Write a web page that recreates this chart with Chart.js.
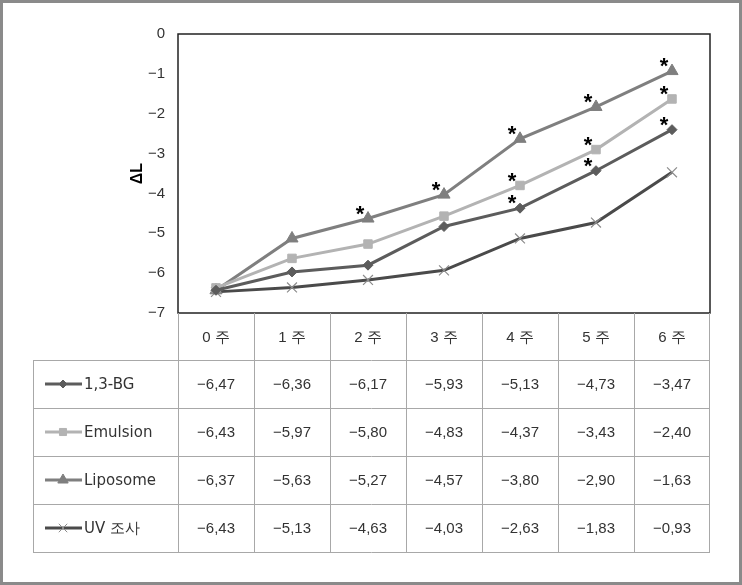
<!DOCTYPE html>
<html>
<head>
<meta charset="utf-8">
<script src="https://cdn.jsdelivr.net/npm/chart.js@4/dist/chart.umd.min.js"></script>
<style>
  body { margin: 0; background: #fff; }
  #wrap { position: relative; width: 742px; height: 585px; }
  #frame { position: absolute; left: 0; top: 0; width: 742px; height: 585px; box-sizing: border-box; border: 3px solid #8a8a8a; pointer-events: none; }
</style>
</head>
<body>
<div id="wrap">
  <canvas id="myChart" width="742" height="585"></canvas>
  <div id="frame"></div>
</div>
<script>
const weeks = ["0 주", "1 주", "2 주", "3 주", "4 주", "5 주", "6 주"];
const rowNames = ["1,3-BG", "Emulsion", "Liposome", "UV 조사"];

// table values
const bg13 = [-6.47, -6.36, -6.17, -5.93, -5.13, -4.73, -3.47];
const emulsion = [-6.43, -5.97, -5.80, -4.83, -4.37, -3.43, -2.40];
const liposome = [-6.37, -5.63, -5.27, -4.57, -3.80, -2.90, -1.63];
const uvExposure = [-6.43, -5.13, -4.63, -4.03, -2.63, -1.83, -0.93];

// significance marks (*) per plotted line
const starsDiamond = [0, 0, 0, 0, 1, 1, 1];
const starsSquare = [0, 0, 0, 0, 1, 1, 1];
const starsTriangle = [0, 0, 1, 1, 1, 1, 1];
const starsCross = [0, 0, 0, 0, 0, 0, 0];

const tableRows = [bg13, emulsion, liposome, uvExposure];

// marker styles as shown in the table legend
const styles = [
  { color: "#5c5c5c", point: "rectRot", radius: 5, pointBorder: "#5c5c5c" },
  { color: "#b3b3b3", point: "rect", radius: 6, pointBorder: "#b3b3b3" },
  { color: "#7f7f7f", point: "triangle", radius: 7, pointBorder: "#7f7f7f" },
  { color: "#4a4a4a", point: "crossRot", radius: 7, pointBorder: "#8c8c8c" },
];

// in the original figure the lines sit one row off from the table legend
const lineData = [emulsion, liposome, uvExposure, bg13];
const lineStars = [starsDiamond, starsSquare, starsTriangle, starsCross];

const fmt = (v) => (v < 0 ? "\u2212" : "") + Math.abs(v).toFixed(2).replace(".", ",");

const datasets = styles.map((s, i) => ({
  label: rowNames[i],
  data: lineData[i],
  stars: lineStars[i],
  borderColor: s.color,
  backgroundColor: s.color,
  borderWidth: 3,
  pointStyle: s.point,
  pointRadius: s.radius,
  pointBorderColor: s.pointBorder,
  pointBackgroundColor: s.color,
  pointBorderWidth: s.point === "crossRot" ? 1.2 : 1,
  tension: 0,
}));

const boxPlugin = {
  id: "plotBox",
  beforeDatasetsDraw(chart) {
    const { ctx, chartArea: a } = chart;
    ctx.save();
    ctx.strokeStyle = "#222";
    ctx.lineWidth = 1.5;
    ctx.strokeRect(a.left, a.top, a.right - a.left, a.bottom - a.top);
    ctx.restore();
  },
};

const starPlugin = {
  id: "stars",
  afterDatasetsDraw(chart) {
    const ctx = chart.ctx;
    ctx.save();
    ctx.fillStyle = "#000";
    ctx.font = "bold 22px 'Liberation Sans'";
    ctx.textAlign = "center";
    ctx.textBaseline = "middle";
    chart.data.datasets.forEach((ds, di) => {
      const meta = chart.getDatasetMeta(di);
      ds.stars.forEach((f, i) => {
        if (!f) return;
        const p = meta.data[i];
        ctx.fillText("*", p.x - 8, p.y - 4);
      });
    });
    ctx.restore();
  },
};

const tablePlugin = {
  id: "dataTable",
  afterDraw(chart) {
    const { ctx, chartArea: a, scales } = chart;
    const x = scales.x;
    const colW = x.getPixelForValue(1) - x.getPixelForValue(0);
    const tRight = a.right - 1;
    const headTop = a.bottom;
    const headH = 47;
    const rowH = 48;
    const labLeft = 33;
    const bodyTop = headTop + headH;
    const bodyBottom = bodyTop + rowH * tableRows.length;

    ctx.save();
    ctx.strokeStyle = "#a8a8a8";
    ctx.lineWidth = 1;
    ctx.beginPath();
    // vertical lines of the value columns
    for (let i = 0; i <= weeks.length; i++) {
      const xx = Math.round(i === weeks.length ? tRight : x.getPixelForValue(i) - colW / 2) + 0.5;
      ctx.moveTo(xx, headTop);
      ctx.lineTo(xx, bodyBottom);
    }
    ctx.moveTo(labLeft + 0.5, bodyTop);
    ctx.lineTo(labLeft + 0.5, bodyBottom);
    for (let r = 0; r <= tableRows.length; r++) {
      const yy = bodyTop + r * rowH + 0.5;
      ctx.moveTo(labLeft, yy);
      ctx.lineTo(tRight + 1, yy);
    }
    ctx.stroke();

    ctx.fillStyle = "#333";
    ctx.font = "15px 'Liberation Sans'";
    ctx.textAlign = "center";
    ctx.textBaseline = "middle";
    weeks.forEach((w, i) => {
      ctx.fillText(w, x.getPixelForValue(i), headTop + headH / 2 + 1);
    });
    tableRows.forEach((row, r) => {
      const cy = bodyTop + r * rowH + rowH / 2 + 1;
      row.forEach((v, i) => {
        ctx.fillText(fmt(v), x.getPixelForValue(i), cy);
      });
    });

    // row labels with legend markers
    tableRows.forEach((row, r) => {
      const cy = bodyTop + r * rowH + rowH / 2;
      const s = styles[r];
      ctx.strokeStyle = s.color;
      ctx.lineWidth = 3;
      ctx.beginPath();
      ctx.moveTo(45, cy);
      ctx.lineTo(82, cy);
      ctx.stroke();
      ctx.fillStyle = s.color;
      ctx.strokeStyle = s.pointBorder;
      ctx.lineWidth = 1;
      Chart.helpers.drawPoint(ctx, { pointStyle: s.point, radius: s.radius - 1, borderWidth: 1, rotation: 0 }, 63, cy);
      ctx.fillStyle = "#333";
      ctx.font = "15px 'DejaVu Sans'";
      ctx.textAlign = "left";
      ctx.fillText(rowNames[r], 84, cy + 1);
    });
    ctx.restore();
  },
};

new Chart("myChart", {
  type: "line",
  data: { labels: weeks, datasets: datasets },
  plugins: [boxPlugin, starPlugin, tablePlugin],
  options: {
    responsive: false,
    animation: false,
    layout: { padding: { left: 120, top: 34, right: 32, bottom: 272 } },
    plugins: { legend: { display: false }, tooltip: { enabled: false } },
    scales: {
      x: { display: false, offset: true },
      y: {
        min: -7,
        max: 0,
        afterFit: (scale) => { scale.width = 58; },
        grid: { display: false, drawTicks: false },
        border: { display: false },
        ticks: {
          stepSize: 1,
          padding: 13,
          color: "#333",
          font: { family: "Liberation Sans", size: 15 },
          callback: (v) => (v < 0 ? "\u2212" + Math.abs(v) : v),
        },
        title: {
          display: true,
          text: "ΔL",
          color: "#000",
          padding: { top: 8, bottom: 0 },
          font: { family: "Liberation Sans", size: 16, weight: "bold" },
        },
      },
    },
  },
});
</script>
</body>
</html>
